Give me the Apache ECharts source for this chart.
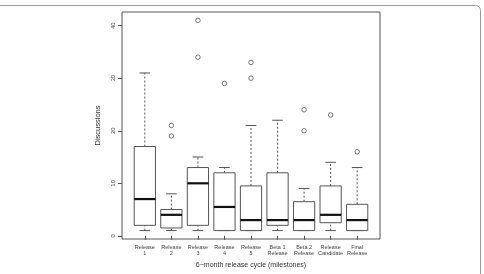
<!DOCTYPE html>
<html>
<head>
    <meta charset="utf-8">
    <title>Discussions per milestone</title>
    <script src="https://cdn.jsdelivr.net/npm/echarts@6/dist/echarts.min.js"></script>
    <style>
        html, body { margin: 0; padding: 0; background: #fff; }
    </style>
</head>
<body>
<div id="main" style="width: 484px;height:274px;"></div>
<script type="text/javascript">
    // milestones (x axis)
    var categories = ['Release\n1', 'Release\n2', 'Release\n3', 'Release\n4', 'Release\n5',
        'Beta 1\nRelease', 'Beta 2\nRelease', 'Release\nCandidate', 'Final\nRelease'];

    // five number summary per milestone
    var whiskerLow  = [1, 1, 1, 1, 1, 1, 1, 1, 1];
    var lowerQ      = [2, 1.5, 2, 1, 1, 2, 1, 2.5, 1];
    var medians     = [7, 4, 10, 5.5, 3, 3, 3, 4, 3];
    var upperQ      = [17, 5, 13, 12, 9.5, 12, 6.5, 9.5, 6];
    var whiskerHigh = [31, 8, 15, 13, 21, 22, 9, 14, 13];

    // outliers: [milestone number, discussions]
    var outlierPos = [2, 2, 3, 3, 4, 5, 5, 7, 7, 8, 9];
    var outlierVal = [21, 19, 41, 34, 29, 33, 30, 24, 20, 23, 16];

    var yTicks = [0, 10, 20, 30, 40];
    var xTicks = [1, 2, 3, 4, 5, 6, 7, 8, 9];

    var boxData = [];
    for (var i = 0; i < categories.length; i++) {
        boxData.push([i + 1, whiskerLow[i], lowerQ[i], medians[i], upperQ[i], whiskerHigh[i]]);
    }
    var outData = [];
    for (var j = 0; j < outlierPos.length; j++) {
        outData.push([outlierPos[j], outlierVal[j]]);
    }

    var boxColor = '#555';
    var font = '"Liberation Sans", Arial, sans-serif';

    // R style box: dashed whiskers, short caps, thick median
    function renderBox(params, api) {
        var x = api.value(0);
        var pLow = api.coord([x, api.value(1)]);
        var pQ1 = api.coord([x, api.value(2)]);
        var pMed = api.coord([x, api.value(3)]);
        var pQ3 = api.coord([x, api.value(4)]);
        var pHigh = api.coord([x, api.value(5)]);
        var half = api.size([0.4, 0])[0];
        var cap = api.size([0.2, 0])[0];
        var cx = pMed[0];
        var dash = { stroke: boxColor, lineWidth: 1, lineDash: [2, 2] };
        var solid = { stroke: boxColor, lineWidth: 1 };
        return {
            type: 'group',
            children: [
                { type: 'line', shape: { x1: cx, y1: pQ3[1], x2: cx, y2: pHigh[1] }, style: dash },
                { type: 'line', shape: { x1: cx, y1: pLow[1], x2: cx, y2: pQ1[1] }, style: dash },
                { type: 'line', shape: { x1: cx - cap, y1: pHigh[1], x2: cx + cap, y2: pHigh[1] }, style: solid },
                { type: 'line', shape: { x1: cx - cap, y1: pLow[1], x2: cx + cap, y2: pLow[1] }, style: solid },
                { type: 'rect', shape: { x: cx - half, y: pQ3[1], width: half * 2, height: pQ1[1] - pQ3[1] },
                    style: { fill: '#fff', stroke: boxColor, lineWidth: 1 } },
                { type: 'line', shape: { x1: cx - half, y1: pMed[1], x2: cx + half, y2: pMed[1] },
                    style: { stroke: '#111', lineWidth: 2.2 } }
            ]
        };
    }

    var myChart = echarts.init(document.getElementById('main'));
    var option = {
        animation: false,
        backgroundColor: '#fff',
        graphic: [{
            type: 'rect',
            shape: { x: -10, y: 5.5, width: 490.5, height: 300, r: 5 },
            style: { fill: 'none', stroke: '#999', lineWidth: 1 },
            silent: true
        }],
        grid: {
            left: 122, top: 12, width: 258, height: 231,
            show: true, borderColor: '#555', borderWidth: 1, backgroundColor: 'transparent'
        },
        xAxis: {
            type: 'value',
            min: 0.14, max: 9.86,
            name: '6\u2212month release cycle (milestones)',
            nameLocation: 'middle',
            nameGap: 23,
            nameTextStyle: { fontSize: 7, color: '#333', fontFamily: font },
            axisLine: { show: false },
            splitLine: { show: false },
            axisTick: { show: true, customValues: xTicks, length: 4, lineStyle: { color: '#555' } },
            axisLabel: {
                customValues: xTicks,
                fontSize: 5.5, lineHeight: 6, margin: 5, color: '#444', fontFamily: font,
                formatter: function (v) { return categories[Math.round(v) - 1]; }
            }
        },
        yAxis: {
            type: 'value',
            min: -0.6, max: 42.6,
            name: 'Discussions',
            nameLocation: 'middle',
            nameGap: 18,
            nameRotate: 90,
            nameTextStyle: { fontSize: 7.5, color: '#333', fontFamily: font },
            axisLine: { show: false },
            splitLine: { show: false },
            axisTick: { show: true, customValues: yTicks, length: 4, lineStyle: { color: '#555' } },
            axisLabel: {
                customValues: yTicks,
                rotate: 90, fontSize: 6, margin: 6, color: '#444', fontFamily: font
            }
        },
        series: [{
            type: 'custom',
            renderItem: renderBox,
            data: boxData,
            z: 2
        }, {
            type: 'scatter',
            data: outData,
            symbol: 'circle',
            symbolSize: 4.5,
            itemStyle: { color: '#fff', borderColor: '#444', borderWidth: 0.9 },
            z: 3
        }]
    };
    myChart.setOption(option);
</script>
</body>
</html>
